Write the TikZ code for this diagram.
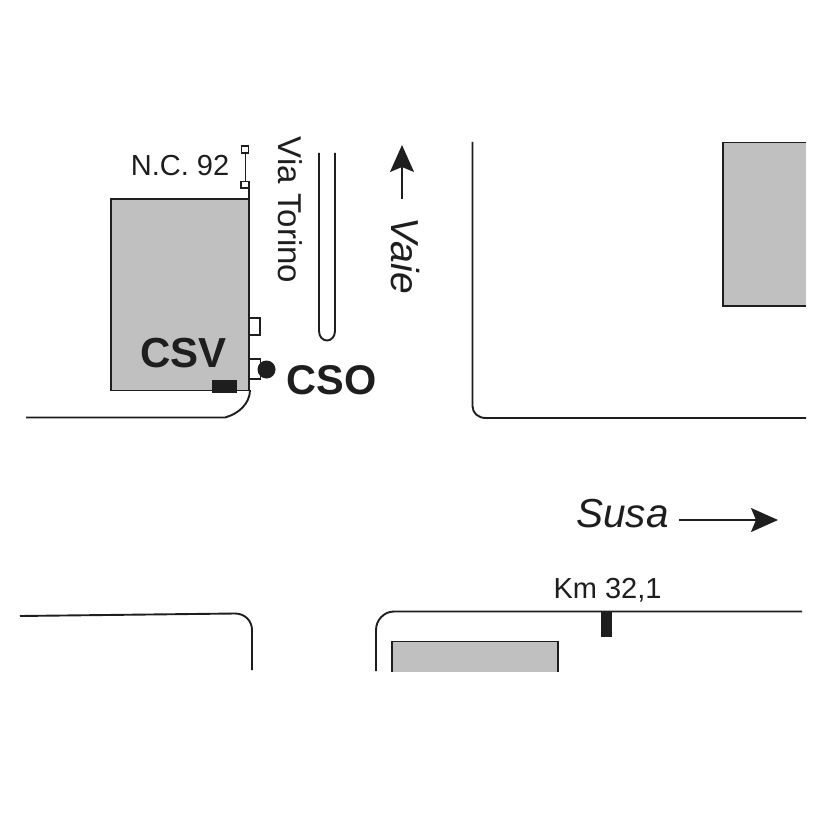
\documentclass[tikz,border=0pt]{standalone}
\usepackage{fontspec}
\setmainfont{Liberation Sans}
\usetikzlibrary{arrows.meta}
\definecolor{bldg}{RGB}{192,192,192}
\definecolor{ink}{RGB}{30,30,30}
\tikzset{
  road/.style={draw=ink,line width=1.9pt},
  bldgfill/.style={fill=bldg,draw=ink,line width=1.9pt},
  blk/.style={fill=ink,draw=none},
  lab/.style={inner sep=0pt,text=ink,anchor=center},
  arw/.style={draw=ink,line width=1.5pt,-{Stealth[length=27pt,width=24pt,inset=5pt]}},
  handle/.style={draw=ink,line width=1.2pt,fill=white},
  tinybox/.style={draw=ink,line width=1.4pt,fill=white}
}
\newcommand{\fs}[1]{\fontsize{#1}{#1}\selectfont}
\begin{document}
\begin{tikzpicture}[x=1pt,y=-1pt]
\useasboundingbox (0,0) rectangle (826,826);
\fill[white] (0,0) rectangle (826,826);
% upper left building
\draw[bldgfill] (111,199) rectangle (249,390.5);
% small boxes on its right side
\draw[tinybox] (249,318) rectangle (260,335);
\draw[tinybox] (249,359) rectangle (260.5,379);
% N.C. marker
\draw[draw=ink,line width=0.8pt] (245,149) -- (245,183);
\draw[draw=ink,line width=1.2pt] (249,185) -- (249,199);
\draw[handle] (241.5,146) rectangle (248.5,153);
\draw[handle] (241,181.5) rectangle (249,188);
% upper-left road edge
\draw[road] (26,417.5) -- (225,417.5) .. controls (238,414) and (250,404) .. (250,390);
\draw[blk] (211.5,380) rectangle (237,393);
\node[circle,fill=ink,inner sep=0pt,minimum size=18pt] (cso dot) at (266.5,369.5) {};
% median
\draw[road] (319,153) -- (319,331) .. controls (319,337) and (323,340.5) .. (327,340.5) .. controls (331,340.5) and (335,337) .. (335,331) -- (335,153);
% right upper road and building
\draw[road] (472.5,142) -- (472.5,406) .. controls (472.5,413) and (478,418) .. (486,418) -- (806,418);
\fill[bldg] (723,142.5) rectangle (806,306);
\draw[road] (806,306) -- (723,306) -- (723,142.5) -- (806,142.5);
% lower roads
\draw[road] (20,616) -- (235,613.5) .. controls (245,613.5) and (252,621) .. (252,630) -- (252,670);
\draw[road] (376,671) -- (376,630) .. controls (376,620) and (384,611.5) .. (394,611.5) -- (802,611.5);
\fill[bldg] (392,641.5) rectangle (558,672);
\draw[road] (392,672) -- (392,641.5) -- (558,641.5) -- (558,672);
\draw[blk] (600.5,611) rectangle (611.5,637);
% texts
\node[lab] (nc) at (180,166) {\fs{29}N.C. 92};
\node[lab,rotate=-90] (via) at (290,210) {\fs{33}Via Torino};
\node[lab] (csv) at (183.5,353.5) {\fs{42}\bfseries CSV};
\node[lab] (cso) at (331.5,380.5) {\fs{41.5}\bfseries CSO};
\node[lab,rotate=-90] (vaie) at (405,255.5) {\fs{39}\itshape Vaie};
\node[lab] (susa) at (622.5,514) {\fs{40.5}\itshape Susa};
\node[lab] (km) at (607.5,590.5) {\fs{29}Km 32,1};
% arrows
\coordinate (vaie tip) at (402,145);
\coordinate (vaie tail) at (402,199);
\draw[arw] (vaie tail) -- (vaie tip);
\coordinate (susa tail) at (679,520);
\coordinate (susa tip) at (778,520);
\draw[arw] (susa tail) -- (susa tip);
\end{tikzpicture}
\end{document}
